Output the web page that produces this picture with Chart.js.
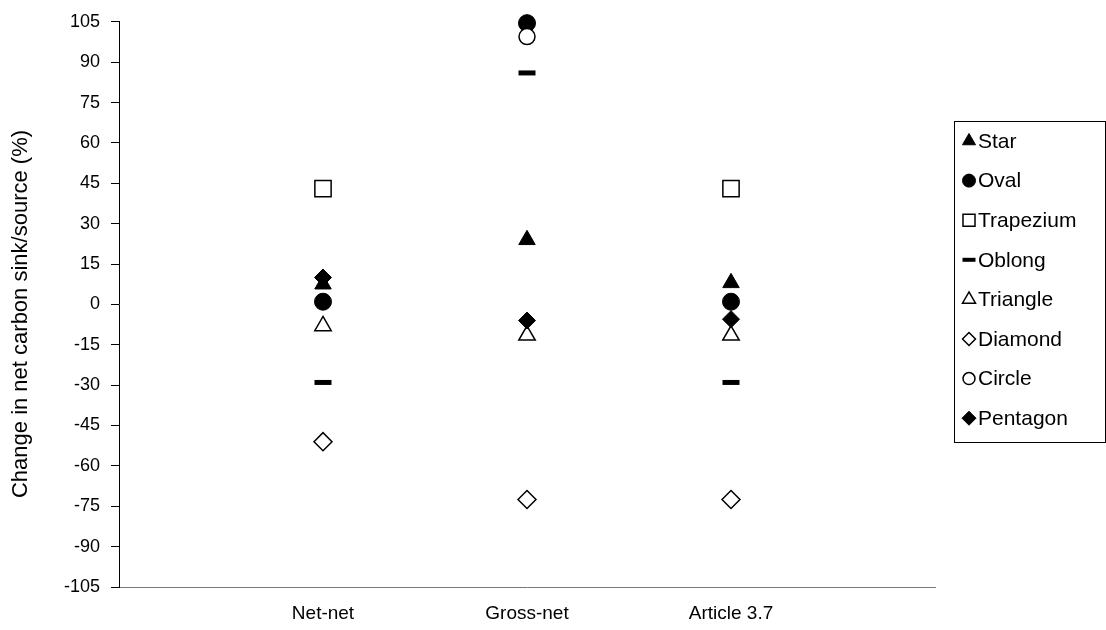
<!DOCTYPE html>
<html>
<head>
<meta charset="utf-8">
<script src="https://cdn.jsdelivr.net/npm/chart.js@4/dist/chart.umd.min.js"></script>
<style>
html,body{margin:0;padding:0;background:#fff;}
#wrap{width:1106px;height:630px;position:relative;}
</style>
</head>
<body>
<div id="wrap"><canvas id="c" width="1106" height="630"></canvas></div>
<script>
const categories = ['Net-net', 'Gross-net', 'Article 3.7'];
const yTicks = [-105, -90, -75, -60, -45, -30, -15, 0, 15, 30, 45, 60, 75, 90, 105];
const yTitle = 'Change in net carbon sink/source (%)';
const seriesNames = ['Star', 'Oval', 'Trapezium', 'Oblong', 'Triangle', 'Diamond', 'Circle', 'Pentagon'];
const star      = [7.5, 24, 8];
const oval      = [1, 104.5, 1];
const trapezium = [43, null, 43];
const oblong    = [-29, 86, -29];
const triangle  = [-8, -11.5, -11.5];
const diamond   = [-51, -72.5, -72.5];
const circle    = [null, 99.5, null];
const pentagon  = [10, -6, -5.5];

const seriesValues = [star, oval, trapezium, oblong, triangle, diamond, circle, pentagon];
const styles = [
  {ps: 'triangle', r: 9.5, fill: '#000', bw: 1, lr: 7.5},
  {ps: 'circle',   r: 8.5, fill: '#000', bw: 1, lr: 6.5},
  {ps: 'rect',     r: 11.5, fill: '#fff', bw: 1.5, lr: 8.5},
  {ps: 'line',     r: 8.5, fill: '#000', bw: 5, lr: 6.5, lbw: 4},
  {ps: 'triangle', r: 9.5, fill: '#fff', bw: 1.5, lr: 7.5},
  {ps: 'rectRot',  r: 9, fill: '#fff', bw: 1.5, lr: 6.5},
  {ps: 'circle',   r: 8, fill: '#fff', bw: 1.5, lr: 6},
  {ps: 'rectRot',  r: 8.5, fill: '#000', bw: 1, lr: 7}
];

const datasets = seriesNames.map((name, i) => ({
  label: name,
  data: seriesValues[i].map((v, j) => v === null ? null : {x: j + 1, y: v}).filter(p => p !== null),
  pointStyle: styles[i].ps,
  pointRadius: styles[i].r,
  pointHoverRadius: styles[i].r,
  pointBackgroundColor: styles[i].fill,
  pointBorderColor: '#000',
  pointBorderWidth: styles[i].bw,
  backgroundColor: styles[i].fill,
  borderColor: '#000',
  showLine: false,
  clip: false,
  order: -i
}));

const FONT = "'Liberation Sans', Arial, sans-serif";

const boxLegend = {
  id: 'boxLegend',
  afterDraw(chart) {
    const ctx = chart.ctx;
    const left = 954, top = 121, right = 1105, bottom = 442;
    ctx.save();
    ctx.strokeStyle = '#000';
    ctx.lineWidth = 1;
    ctx.strokeRect(left + 0.5, top + 0.5, right - left, bottom - top);
    ctx.font = '21px ' + FONT;
    ctx.textBaseline = 'middle';
    seriesNames.forEach((name, i) => {
      const y = 141 + i * 39.6;
      const s = styles[i];
      ctx.fillStyle = s.fill;
      ctx.strokeStyle = '#000';
      ctx.lineWidth = s.lbw || s.bw;
      Chart.helpers.drawPoint(ctx, {pointStyle: s.ps, radius: s.lr, rotation: 0, borderWidth: s.lbw || s.bw}, 969, y);
      ctx.fillStyle = '#000';
      ctx.fillText(name, 978, y + 1);
    });
    ctx.restore();
  }
};

const yTitlePlugin = {
  id: 'yTitlePlugin',
  afterDraw(chart) {
    const ctx = chart.ctx;
    ctx.save();
    ctx.translate(21, 314);
    ctx.rotate(-Math.PI / 2);
    ctx.font = '22px ' + FONT;
    ctx.fillStyle = '#000';
    ctx.textAlign = 'center';
    ctx.textBaseline = 'middle';
    ctx.fillText(yTitle, 0, 0);
    ctx.restore();
  }
};

new Chart(document.getElementById('c'), {
  type: 'scatter',
  data: {datasets},
  plugins: [boxLegend, yTitlePlugin],
  options: {
    responsive: false,
    animation: false,
    events: [],
    layout: {padding: {top: 11, right: 171, bottom: 0, left: 0}},
    plugins: {legend: {display: false}, tooltip: {enabled: false}},
    scales: {
      x: {
        type: 'linear',
        min: 0, max: 4,
        afterBuildTicks(scale) { scale.ticks = categories.map((c, i) => ({value: i + 1})); },
        afterFit(scale) { scale.height = 43; },
        ticks: {
          callback: (v) => categories[v - 1] || '',
          color: '#000',
          font: {family: FONT, size: 19},
          padding: 15,
          maxRotation: 0
        },
        grid: {display: false, drawTicks: false},
        border: {display: true, color: '#777', width: 1}
      },
      y: {
        type: 'linear',
        min: -105, max: 105,
        afterBuildTicks(scale) { scale.ticks = yTicks.map(v => ({value: v})); },
        afterFit(scale) { scale.width = 119; },
        ticks: {
          color: '#000',
          font: {family: FONT, size: 18},
          padding: 11
        },
        grid: {drawOnChartArea: false, drawTicks: true, tickLength: 8, color: '#000'},
        border: {display: true, color: '#000', width: 1}
      }
    }
  }
});
</script>
</body>
</html>
